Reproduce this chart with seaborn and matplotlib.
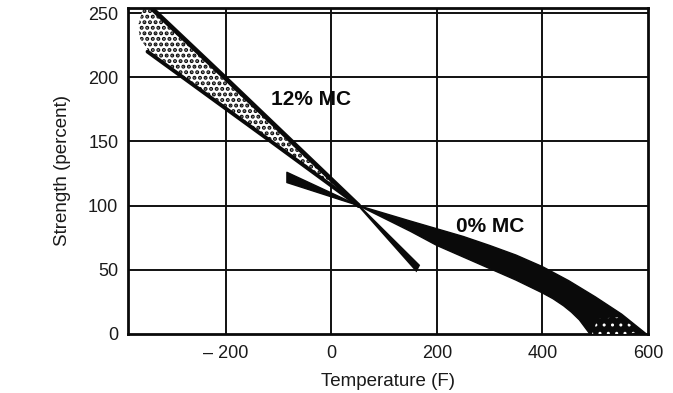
import numpy as np
import pandas as pd
import matplotlib
matplotlib.use("Agg")
import matplotlib.pyplot as plt
import seaborn as sns

# ---- data -------------------------------------------------------------
# 12% moisture content band, cold side (steep and shallow edges)
mc12_steep_t = [-338, -202, 52]
mc12_steep_s = [253, 200, 100]
mc12_shallow_t = [-348, -114, 52]
mc12_shallow_s = [220, 150, 100]
# stippled left end of the 12% band
mc12_end_t = [-357, -366, -362, -348]
mc12_end_s = [253, 240, 230, 222]
# 12% band, warm side tail
mc12_tail_t = [52, 166, 161]
mc12_tail_s = [100, 53.5, 49.5]

# 0% moisture content band
mc0_upper_t = [-84, 52, 150, 200, 250, 300, 350, 400, 450, 500, 550, 597]
mc0_upper_s = [126, 100, 88, 82, 76, 69, 61.5, 52.5, 41.5, 29, 15.5, 0]
mc0_lower_t = [-84, 52, 150, 200, 250, 300, 350, 400, 420, 440, 455, 470, 490]
mc0_lower_s = [118, 100, 80, 69, 60, 51, 42, 32, 27.5, 22, 17, 11, 0]
# lighter stippled patch at the hot end of the 0% band
mc0_patch_t = [494, 525, 560, 588, 545, 505]
mc0_patch_s = [0, 0, 0, 2, 13, 12]

x_ticks = [-200, 0, 200, 400, 600]
x_tick_labels = ["\u2013 200", "0", "200", "400", "600"]
y_ticks = [0, 50, 100, 150, 200, 250]

# ---- style ------------------------------------------------------------
sns.set_theme(style="white")
plt.rcParams["font.family"] = ["Liberation Sans", "DejaVu Sans"]

fig = plt.figure(figsize=(6.73, 3.93), dpi=100)
ax = fig.add_axes([128 / 673, 59 / 393, 520 / 673, 326 / 393])
ax.set_xlim(-385, 597)
ax.set_ylim(0, 254)

# grid
for t in x_ticks[:-1]:
    ax.axvline(t, color="#111111", lw=1.4, zorder=1)
for s in y_ticks[1:]:
    ax.axhline(s, color="#111111", lw=1.4, zorder=1)

ink = "#0a0a0a"

# 12% MC band: stippled wedge with black edges
stipple = ax.fill(
    mc12_end_t[:1] + mc12_steep_t + mc12_shallow_t[::-1] + mc12_end_t[::-1][:-1],
    mc12_end_s[:1] + mc12_steep_s + mc12_shallow_s[::-1] + mc12_end_s[::-1][:-1],
    facecolor="white", edgecolor=ink, hatch="...", linewidth=0, zorder=2)[0]
stipple.set_hatch_linewidth(2.0)
edges = pd.concat([
    pd.DataFrame({"t": mc12_steep_t, "s": mc12_steep_s, "edge": "steep"}),
    pd.DataFrame({"t": mc12_shallow_t, "s": mc12_shallow_s, "edge": "shallow"}),
])
sns.lineplot(data=edges[edges.edge == "steep"], x="t", y="s", color=ink,
             lw=3.4, ax=ax, zorder=3, sort=False, estimator=None)
sns.lineplot(data=edges[edges.edge == "shallow"], x="t", y="s", color=ink,
             lw=2.8, ax=ax, zorder=3, sort=False, estimator=None)
ax.fill(mc12_tail_t, mc12_tail_s, facecolor=ink, edgecolor=ink, lw=1.5, zorder=3)

# 0% MC band: solid black
ax.fill(mc0_upper_t + mc0_lower_t[::-1], mc0_upper_s + mc0_lower_s[::-1],
        facecolor=ink, edgecolor=ink, lw=1.0, zorder=3, joinstyle="round")
speckle = ax.fill(mc0_patch_t, mc0_patch_s, facecolor="none", edgecolor="white",
                  hatch="..", linewidth=0, zorder=4)[0]
speckle.set_hatch_linewidth(1.0)

# labels inside the plot
ax.text(-38, 183, "12% MC", fontsize=15, fontweight="bold", ha="center",
        va="center", color=ink, zorder=5)
ax.text(302, 84, "0% MC", fontsize=15, fontweight="bold", ha="center",
        va="center", color=ink, zorder=5)

# axes
ax.set_xticks(x_ticks)
ax.set_xticklabels(x_tick_labels)
ax.set_yticks(y_ticks)
ax.tick_params(axis="both", length=0, labelsize=13, colors="#1a1a1a")
ax.tick_params(axis="x", pad=8)
ax.tick_params(axis="y", pad=7)
for sp in ax.spines.values():
    sp.set_color(ink)
    sp.set_linewidth(2.0)
ax.set_xlabel("Temperature (F)", fontsize=13.5, color="#1a1a1a")
ax.set_ylabel("Strength (percent)", fontsize=13.5, color="#1a1a1a")
ax.xaxis.set_label_coords((388 - 128) / 520, (334 - 373) / 326)
ax.yaxis.set_label_coords((71 - 128) / 520, 0.5)

fig.savefig("out.png", dpi=100)
